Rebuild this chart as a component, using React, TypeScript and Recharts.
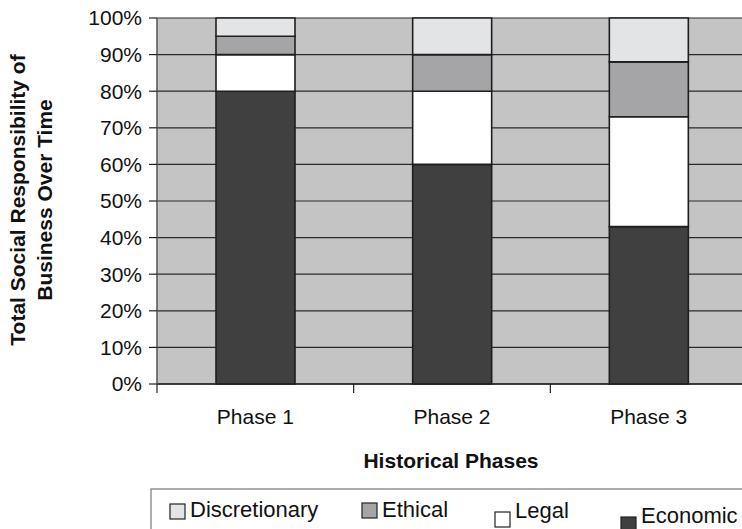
import React from "react";
import { BarChart, Bar, XAxis, YAxis, CartesianGrid } from "recharts";

const phases = ["Phase 1", "Phase 2", "Phase 3"];
const economic = [80, 60, 43];
const legal = [10, 20, 30];
const ethical = [5, 10, 15];
const discretionary = [5, 10, 12];
const yTicks = [0, 10, 20, 30, 40, 50, 60, 70, 80, 90, 100];

// stacking order, bottom to top
const series = [
  { key: "economic", name: "Economic", values: economic, color: "#404040" },
  { key: "legal", name: "Legal", values: legal, color: "#ffffff" },
  { key: "ethical", name: "Ethical", values: ethical, color: "#a5a5a8" },
  { key: "discretionary", name: "Discretionary", values: discretionary, color: "#e3e4e6" },
];

// legend reads top of stack first; x = swatch left, y = text baseline, sy = swatch top
const legendItems = [
  { name: "Discretionary", color: "#e3e4e6", x: 170, y: 517, sy: 504 },
  { name: "Ethical", color: "#a5a5a8", x: 362, y: 517, sy: 503 },
  { name: "Legal", color: "#ffffff", x: 495, y: 518, sy: 512 },
  { name: "Economic", color: "#404040", x: 621, y: 523, sy: 517 },
];

const data = phases.map((p, i) => {
  const row: Record<string, string | number> = { phase: p };
  series.forEach((s) => (row[s.key] = s.values[i]));
  return row;
});

const font = "'Liberation Sans', Arial, sans-serif";

// category label plus tick marks on the band edges
const PhaseTick = (props: any) => {
  const { x, y, payload, index, visibleTicksCount } = props;
  const half = payload.offset || 0;
  const top = y - 8;
  const isLast = index === visibleTicksCount - 1;
  return (
    <g>
      <line x1={x - half} x2={x - half} y1={top} y2={top + 9} stroke="#222" strokeWidth={1.2} />
      {isLast && (
        <line x1={x + half} x2={x + half} y1={top} y2={top + 9} stroke="#222" strokeWidth={1.2} />
      )}
      <text x={x} y={424} textAnchor="middle" fontFamily={font} fontSize={21} fill="#111">
        {payload.value}
      </text>
    </g>
  );
};

export default function App() {
  return (
    <div
      style={{
        position: "fixed",
        left: 0,
        top: 0,
        width: 742,
        height: 529,
        overflow: "hidden",
        background: "#fff",
        fontFamily: font,
      }}
    >
      <BarChart
        width={760}
        height={529}
        data={data}
        margin={{ top: 18, right: 13, left: 0, bottom: 105 }}
        barCategoryGap="30%"
      >
        <CartesianGrid
          vertical={false}
          fill="#c4c4c4"
          fillOpacity={1}
          stroke="#2a2a2a"
          strokeWidth={1.2}
        />
        <XAxis
          dataKey="phase"
          height={40}
          tickLine={false}
          axisLine={{ stroke: "#222", strokeWidth: 1.5 }}
          tick={<PhaseTick />}
        />
        <YAxis
          width={157}
          domain={[0, 100]}
          ticks={yTicks}
          interval={0}
          tickFormatter={(v) => `${v}%`}
          axisLine={{ stroke: "#555", strokeWidth: 1.5 }}
          tickLine={{ stroke: "#222", strokeWidth: 1.2 }}
          tickSize={8}
          tick={{ fill: "#111", fontSize: 21, fontFamily: font, dx: -5 }}
        />
        {series.map((s) => (
          <Bar
            key={s.key}
            dataKey={s.key}
            name={s.name}
            stackId="total"
            fill={s.color}
            stroke="#1e1e1e"
            strokeWidth={1.6}
            isAnimationActive={false}
          />
        ))}
      </BarChart>

      <svg
        width={742}
        height={529}
        style={{ position: "absolute", left: 0, top: 0, pointerEvents: "none" }}
      >
        <g fontFamily={font} fontWeight="bold" fontSize={21} fill="#111" textAnchor="middle">
          <text transform="translate(25,200) rotate(-90)">Total Social Responsibility of</text>
          <text transform="translate(52,200) rotate(-90)">Business Over Time</text>
          <text x={451} y={468}>Historical Phases</text>
        </g>
        <rect x={151} y={489} width={620} height={60} fill="none" stroke="#777" strokeWidth={1.2} />
        {legendItems.map((it) => (
          <g key={it.name}>
            <rect x={it.x} y={it.sy} width={15} height={15} fill={it.color} stroke="#222" strokeWidth={1.2} />
            <text x={it.x + 20} y={it.y} fontFamily={font} fontSize={22} fill="#111">
              {it.name}
            </text>
          </g>
        ))}
      </svg>
    </div>
  );
}
